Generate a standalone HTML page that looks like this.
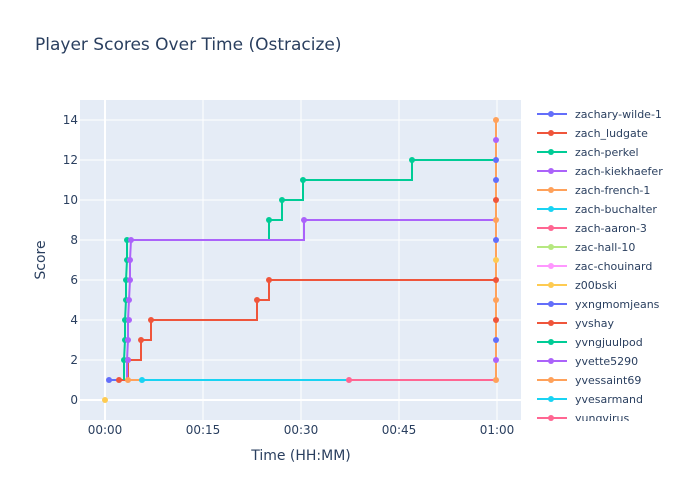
<!DOCTYPE html>
<html><head><meta charset="utf-8"><style>body{margin:0;background:#fff}svg{display:block;font-family:"DejaVu Sans","Liberation Sans",sans-serif}</style></head><body>
<svg width="700" height="500" viewBox="0 0 700 500">
<rect width="700" height="500" fill="#fff"/>
<rect x="80" y="100" width="441" height="320" fill="#e5ecf6"/>
<g stroke="#fff" stroke-width="1">
<line x1="80" x2="521" y1="400" y2="400" stroke-width="2"/>
<line x1="80" x2="521" y1="360" y2="360"/><line x1="80" x2="521" y1="320" y2="320"/>
<line x1="80" x2="521" y1="280" y2="280"/><line x1="80" x2="521" y1="240" y2="240"/>
<line x1="80" x2="521" y1="200" y2="200"/><line x1="80" x2="521" y1="160" y2="160"/>
<line x1="80" x2="521" y1="120" y2="120"/>
<line x1="105" x2="105" y1="100" y2="420" stroke-width="2"/>
<line x1="203" x2="203" y1="100" y2="420"/><line x1="301" x2="301" y1="100" y2="420"/>
<line x1="399" x2="399" y1="100" y2="420"/><line x1="497" x2="497" y1="100" y2="420"/>
</g>
<g font-size="12" fill="#2a3f5f" text-anchor="end">
<text x="78" y="404">0</text><text x="78" y="364">2</text><text x="78" y="324">4</text><text x="78" y="284">6</text><text x="78" y="244">8</text><text x="78" y="204">10</text><text x="78" y="164">12</text><text x="78" y="124">14</text>
</g>
<g font-size="12" fill="#2a3f5f" text-anchor="middle">
<text x="105" y="434">00:00</text><text x="203" y="434">00:15</text><text x="301" y="434">00:30</text><text x="399" y="434">00:45</text><text x="497" y="434">01:00</text>
</g>
<text x="301" y="460" font-size="14" fill="#2a3f5f" text-anchor="middle">Time (HH:MM)</text>
<text x="45" y="260" font-size="14" fill="#2a3f5f" text-anchor="middle" transform="rotate(-90 45 260)">Score</text>
<text x="35" y="50" font-size="17" fill="#2a3f5f">Player Scores Over Time (Ostracize)</text>
<g fill="none" stroke-width="2">
<polyline stroke="#FFA15A" points="128,380 496,380"/>
<polyline stroke="#19d3f3" points="142,380 496,380"/>
<polyline stroke="#FF6692" points="349,380 496,380"/>
<polyline stroke="#636efa" points="109,380 119,380"/>
<polyline stroke="#EF553B" points="119,380 128,380 128,360 141,360 141,340 151,340 151,320 257,320 257,300 269,300 269,280 496,280 496,200"/>
<polyline stroke="#00cc96" points="124,380 124,360 125,340 125,320 126,300 126,280 127,260 127,240 269,240 269,220 282,220 282,200 303,200 303,180 412,180 412,160 496,160 496,140"/>
<polyline stroke="#ab63fa" points="127,380 127,360 128,340 128,320 129,300 130,280 130,260 131,240 304,240 304,220 496,220 496,120"/>
<polyline stroke="#FFA15A" points="496,380 496,120"/>
</g>
<g stroke="none">
<circle cx="105" cy="400" r="3" fill="#FECB52"/>
<circle cx="109" cy="380" r="3" fill="#636efa"/>
<circle cx="119" cy="380" r="3" fill="#EF553B"/>
<circle cx="128" cy="380" r="3" fill="#FFA15A"/>
<circle cx="142" cy="380" r="3" fill="#19d3f3"/>
<circle cx="349" cy="380" r="3" fill="#FF6692"/>
<g fill="#EF553B"><circle cx="128" cy="360" r="3"/><circle cx="141" cy="340" r="3"/><circle cx="151" cy="320" r="3"/><circle cx="257" cy="300" r="3"/><circle cx="269" cy="280" r="3"/></g>
<g fill="#00cc96"><circle cx="124" cy="360" r="3"/><circle cx="125" cy="340" r="3"/><circle cx="125" cy="320" r="3"/><circle cx="126" cy="300" r="3"/><circle cx="126" cy="280" r="3"/><circle cx="127" cy="260" r="3"/><circle cx="127" cy="240" r="3"/><circle cx="269" cy="220" r="3"/><circle cx="282" cy="200" r="3"/><circle cx="303" cy="180" r="3"/><circle cx="412" cy="160" r="3"/></g>
<g fill="#ab63fa"><circle cx="128" cy="360" r="3"/><circle cx="128" cy="340" r="3"/><circle cx="129" cy="320" r="3"/><circle cx="129" cy="300" r="3"/><circle cx="130" cy="280" r="3"/><circle cx="130" cy="260" r="3"/><circle cx="131" cy="240" r="3"/><circle cx="304" cy="220" r="3"/></g>
<circle cx="496" cy="120" r="3" fill="#FFA15A"/><circle cx="496" cy="140" r="3" fill="#ab63fa"/><circle cx="496" cy="160" r="3" fill="#636efa"/><circle cx="496" cy="180" r="3" fill="#636efa"/><circle cx="496" cy="200" r="3" fill="#EF553B"/><circle cx="496" cy="220" r="3" fill="#FFA15A"/><circle cx="496" cy="240" r="3" fill="#636efa"/><circle cx="496" cy="260" r="3" fill="#FECB52"/><circle cx="496" cy="280" r="3" fill="#EF553B"/><circle cx="496" cy="300" r="3" fill="#FFA15A"/><circle cx="496" cy="320" r="3" fill="#EF553B"/><circle cx="496" cy="340" r="3" fill="#636efa"/><circle cx="496" cy="360" r="3" fill="#ab63fa"/><circle cx="496" cy="380" r="3" fill="#FFA15A"/>
</g>
<defs><clipPath id="lc"><rect x="530" y="100" width="170" height="321"/></clipPath></defs>
<g clip-path="url(#lc)" font-size="11" fill="#2a3f5f">
<g stroke-width="2">
<line x1="537" x2="567" y1="114" y2="114" stroke="#636efa"/><circle cx="551" cy="114" r="3" fill="#636efa"/><text x="575" y="118">zachary-wilde-1</text>
<line x1="537" x2="567" y1="133" y2="133" stroke="#EF553B"/><circle cx="551" cy="133" r="3" fill="#EF553B"/><text x="575" y="137">zach_ludgate</text>
<line x1="537" x2="567" y1="152" y2="152" stroke="#00cc96"/><circle cx="551" cy="152" r="3" fill="#00cc96"/><text x="575" y="156">zach-perkel</text>
<line x1="537" x2="567" y1="171" y2="171" stroke="#ab63fa"/><circle cx="551" cy="171" r="3" fill="#ab63fa"/><text x="575" y="175">zach-kiekhaefer</text>
<line x1="537" x2="567" y1="190" y2="190" stroke="#FFA15A"/><circle cx="551" cy="190" r="3" fill="#FFA15A"/><text x="575" y="194">zach-french-1</text>
<line x1="537" x2="567" y1="209" y2="209" stroke="#19d3f3"/><circle cx="551" cy="209" r="3" fill="#19d3f3"/><text x="575" y="213">zach-buchalter</text>
<line x1="537" x2="567" y1="228" y2="228" stroke="#FF6692"/><circle cx="551" cy="228" r="3" fill="#FF6692"/><text x="575" y="232">zach-aaron-3</text>
<line x1="537" x2="567" y1="247" y2="247" stroke="#B6E880"/><circle cx="551" cy="247" r="3" fill="#B6E880"/><text x="575" y="251">zac-hall-10</text>
<line x1="537" x2="567" y1="266" y2="266" stroke="#FF97FF"/><circle cx="551" cy="266" r="3" fill="#FF97FF"/><text x="575" y="270">zac-chouinard</text>
<line x1="537" x2="567" y1="285" y2="285" stroke="#FECB52"/><circle cx="551" cy="285" r="3" fill="#FECB52"/><text x="575" y="289">z00bski</text>
<line x1="537" x2="567" y1="304" y2="304" stroke="#636efa"/><circle cx="551" cy="304" r="3" fill="#636efa"/><text x="575" y="308">yxngmomjeans</text>
<line x1="537" x2="567" y1="323" y2="323" stroke="#EF553B"/><circle cx="551" cy="323" r="3" fill="#EF553B"/><text x="575" y="327">yvshay</text>
<line x1="537" x2="567" y1="342" y2="342" stroke="#00cc96"/><circle cx="551" cy="342" r="3" fill="#00cc96"/><text x="575" y="346">yvngjuulpod</text>
<line x1="537" x2="567" y1="361" y2="361" stroke="#ab63fa"/><circle cx="551" cy="361" r="3" fill="#ab63fa"/><text x="575" y="365">yvette5290</text>
<line x1="537" x2="567" y1="380" y2="380" stroke="#FFA15A"/><circle cx="551" cy="380" r="3" fill="#FFA15A"/><text x="575" y="384">yvessaint69</text>
<line x1="537" x2="567" y1="399" y2="399" stroke="#19d3f3"/><circle cx="551" cy="399" r="3" fill="#19d3f3"/><text x="575" y="403">yvesarmand</text>
<line x1="537" x2="567" y1="418" y2="418" stroke="#FF6692"/><circle cx="551" cy="418" r="3" fill="#FF6692"/><text x="575" y="422">yungvirus</text>
</g>
</g>
</svg>
</body></html>
